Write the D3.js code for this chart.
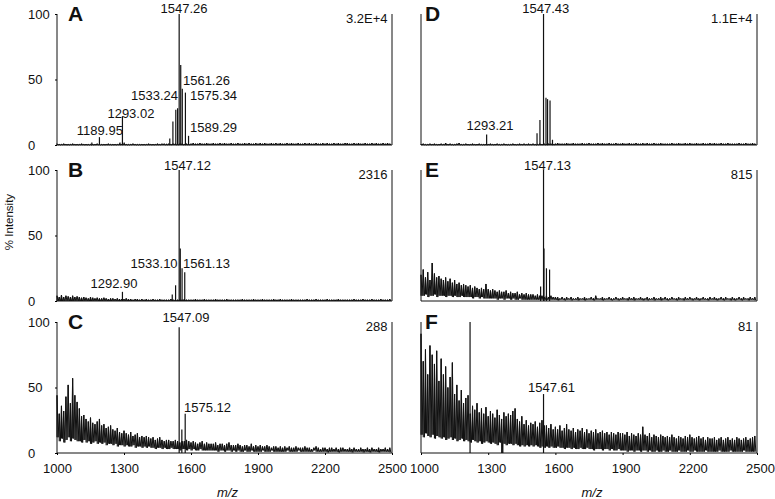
<!DOCTYPE html>
<html>
<head>
<meta charset="utf-8">
<script src="https://cdn.jsdelivr.net/npm/d3@7"></script>
<style>
  body { margin: 0; background: #fff; }
  svg { display: block; font-family: "Liberation Sans", Arial, sans-serif; }
</style>
</head>
<body>
<div id="chart"></div>
<script>
// m/z axis
var xTicks = [1000, 1300, 1600, 1900, 2200, 2500];
var yTicks = [0, 50, 100];
var noiseStart = 1000, noiseStep = 10;

// stick peaks [m/z, % intensity]
var peaksA = [[1156,2],[1190,6],[1282,2],[1293,22],[1301,2],[1491,1],[1505,5],[1519,18],[1532,27],[1540,28],[1547,100],[1554,61],[1561,43],[1575,40],[1589,7]];
var peaksB = [[1293,7],[1516,5],[1531,12],[1547,100],[1552,40],[1560,25],[1572,22]];
var peaksC = [[1547,96],[1559,18],[1574,30]];
var peaksD = [[1293,8],[1518,9],[1531,19],[1547,100],[1558,36],[1565,35],[1576,34],[1587,4]];
var peaksE = [[1534,11],[1547,100],[1549,40],[1560,25],[1574,24]];
var peaksF = [[1219,100],[1547,45]];

// baseline noise, upper / lower envelope every 10 m/z from 1000
var noiseAHi = [
  1,0.5,0.5,1,0.5,0.5,0.5,1,0.5,0.5,
  0.5,1,0.5,0.5,0.5,0.5,0.5,0.5,1,0.5,
  0.5,0.5,0.5,1,0.5,0.5,0.5,0.5,1,0.5,
  1,0.5,0.5,0.5,1,0.5,0.5,0.5,0.5,0.5,
  0.5,1,0.5,0.5,0.5,1,0.5,1,1,0.5,
  1,0.5,1,1,0.5,1,1,0.5,1,0.5,
  1,1.5,1,1,1.5,1,1,1.5,1,1,
  1.5,1,1,1.5,1,1.5,1,1,1.5,1,
  1,1.5,1,1,1.5,1,1.5,1,1,1.5,
  1,1.5,1,1.5,1,1,1.5,1,1.5,1,
  1.5,1,1,1.5,1,1.5,1,1,1.5,1,
  1,1.5,1,1.5,1,1,1.5,1,1,1.5,
  1,1.5,1,1,1.5,1,1.5,1,1,1.5,
  1.5,1,1,1.5,1,1.5,1,1,1.5,1,
  1,1.5,1,1.5,1,1,1.5,1,1.5,1];
var noiseBHi = [
  4,3,4.5,3,4,3.5,3,4,3,3.5,
  3,2.5,3,2.5,2,3,2.5,2,2.5,2,
  2,2.5,2,1.5,2,2,1.5,2,1.5,1.5,
  1.5,2,1.5,1.5,1,1.5,1.5,1,1.5,1,
  1.5,1,1,1.5,1,1,1.5,1,1,1,
  1,1.5,1,1,1,1,1,1.5,1,1,
  1,1,1.5,1,1,1,1.5,1,1,1,
  1,1.5,1,1,1,1,1.5,1,1,1,
  1,1,1,1.5,1,1,1,1,1.5,1,
  1,1,1.5,1,1,1,1,1.5,1,1,
  1.5,1,1,1,1,1.5,1,1,1,1,
  1,1,1.5,1,1,1,1.5,1,1,1,
  1,1.5,1,1,1,1,1.5,1,1,1,
  1,1,1,1.5,1,1,1,1.5,1,1,
  1,1.5,1,1,1,1.5,1,1,1,1.5];
var noiseCHi = [
  44,30,36,32,43,52,38,57,44,39,
  34,28,29,26,24,27,23,22,24,26,
  21,22,19,20,21,18,17,19,16,15,
  17,15,14,16,13,14,15,12,13,12,
  13,12,11,12,10,11,12,10,9,10,
  10,9,9,10,9,8,9,9,10,9,
  8,9,8,7,8,9,7,8,7,7,
  7,8,6,7,7,6,7,8,6,6,
  6,7,6,5,6,6,5,7,5,6,
  5,6,5,5,6,5,4,5,5,4,
  5,4,5,4,5,4,4,5,4,4,
  4,5,4,4,3,4,5,4,3,4,
  4,3,4,4,3,4,3,4,4,3,
  3,4,3,4,3,3,4,3,3,4,
  3,4,3,3,4,3,3,4,3,4];
var noiseCLo = [
  12,9,11,8,10,12,9,11,10,9,
  9,8,10,8,9,7,8,9,7,8,
  7,8,6,7,7,6,7,5,6,6,
  5,6,5,5,6,4,5,5,4,5,
  4,5,4,4,3,4,4,3,4,3,
  3,4,3,3,3,2,3,3,2,3,
  2,3,2,2,3,2,2,2,2,2,
  2,2,1,2,2,1,2,2,1,2,
  1,2,1,1,2,1,1,2,1,1,
  1,1,2,1,1,1,2,1,1,1,
  1,1,1,2,1,1,1,1,2,1,
  1,1,1,1,1,2,1,1,1,1,
  1,0.5,1,1,1,1,0.5,1,1,1,
  1,1,0.5,1,1,1,1,0.5,1,1,
  0.5,1,1,1,0.5,1,1,1,1,0.5];
var noiseDHi = [
  0.5,1,0.5,0.5,1,0.5,1,0.5,0.5,1,
  0.5,1.5,0.5,1,0.5,0.5,1,1.5,0.5,0.5,
  1,0.5,0.5,1,0.5,0.5,1,0.5,0.5,0.5,
  0.5,1,0.5,0.5,1,0.5,0.5,1,0.5,0.5,
  0.5,1,0.5,0.5,1,0.5,1,0.5,1,0.5,
  1,0.5,0.5,1,0.5,1,0.5,1,1,0.5,
  1,1.5,1,1,1,1.5,1,1,1.5,1,
  1,1,1.5,1,1,1.5,1,1,1,1.5,
  1,1.5,1,1,1.5,1,1,1.5,1,1,
  1.5,1,1,1.5,1,1,1.5,1,1,1.5,
  1,1.5,1,1,1.5,1,1,1.5,1,1,
  1,1,1.5,1,1,1.5,1,1,1.5,1,
  1.5,1,1,1.5,1,1,1.5,1,1,1.5,
  1,1.5,1,1,1.5,1,1,1.5,1,1,
  1,1,1.5,1,1,1.5,1,1,1.5,1];
var noiseEHi = [
  20,24,18,22,16,29,21,18,19,17,
  16,18,15,17,14,16,13,14,12,13,
  12,11,12,10,11,10,9,10,9,13,
  9,8,9,8,7,8,7,7,8,6,
  7,6,6,7,5,6,5,6,5,5,
  5,4,5,4,4,3,4,3,4,3,
  3,3,2,3,2,3,2,3,2,2,
  3,2,2,3,2,2,3,2,4,2,
  2,3,2,2,3,2,2,3,2,2,
  3,2,2,3,2,3,2,2,3,2,
  2,3,2,2,3,2,2,3,2,3,
  2,2,3,2,2,3,2,2,3,2,
  3,2,2,3,2,2,3,2,2,3,
  2,3,2,2,3,2,3,2,2,3,
  2,2,3,2,3,2,2,3,2,3];
var noiseELo = [
  4,4,5,3,4,4,5,3,4,4,
  4,3,4,4,3,4,3,3,4,3,
  3,3,3,2,3,3,2,3,2,2,
  2,2,2,2,1,2,2,1,2,2,
  1,2,1,1,2,1,1,1,1,1,
  1,1,1,1,1,1,1,1,1,1,
  1,0.5,1,1,0.5,1,1,0.5,1,1,
  0.5,1,1,0.5,1,1,1,0.5,1,1,
  1,0.5,1,1,1,0.5,1,1,0.5,1,
  1,1,0.5,1,1,0.5,1,1,1,0.5,
  1,0.5,1,1,0.5,1,1,0.5,1,1,
  0.5,1,1,1,0.5,1,1,0.5,1,1,
  1,0.5,1,1,0.5,1,1,1,0.5,1,
  1,1,0.5,1,1,0.5,1,1,0.5,1,
  0.5,1,1,0.5,1,1,0.5,1,1,0.5];
var noiseFHi = [
  91,70,79,60,82,75,68,78,55,72,
  60,66,50,58,69,45,52,40,48,38,
  42,44,30,36,33,38,31,34,30,35,
  28,32,30,27,33,29,26,31,28,30,
  29,32,34,26,24,28,22,25,21,23,
  22,24,20,23,25,21,21,19,22,18,
  20,18,21,17,19,22,18,17,19,16,
  18,17,19,16,18,15,17,16,18,15,
  16,17,15,16,14,16,15,14,16,15,
  15,14,16,13,15,14,13,15,14,20,
  14,13,15,12,14,13,12,14,13,12,
  13,12,14,12,11,13,12,11,13,12,
  14,12,11,12,13,11,12,10,12,11,
  11,12,10,11,12,10,11,12,10,11,
  10,12,11,10,11,12,10,11,12,13];
var noiseFLo = [
  14,12,15,13,12,14,11,13,12,11,
  12,10,11,12,10,11,9,10,11,9,
  10,9,8,10,9,8,9,7,8,9,
  8,7,8,7,6,8,0,7,6,7,
  7,6,7,6,5,6,5,6,5,6,
  5,6,5,4,5,4,5,4,5,4,
  4,5,4,4,3,4,4,3,4,3,
  3,4,3,3,4,3,3,2,3,3,
  3,2,3,3,2,3,2,2,3,2,
  2,2,1,2,2,1,2,2,1,2,
  2,1,2,1,1,2,1,1,2,1,
  1,2,1,1,1,2,1,1,1,2,
  1,1,2,1,1,1,1,2,1,1,
  1,1,1,2,1,1,1,1,2,1,
  1,1,1,1,2,1,1,1,1,1];

// peak labels [text, m/z, % intensity, anchor]
var labelsA = [["1547.26",1569,101,"middle"],["1561.26",1564,46,"start"],["1575.34",1596,34.4,"start"],
  ["1533.24",1542,34.4,"end"],["1293.02",1331,20.6,"middle"],["1189.95",1192,7.6,"middle"],["1589.29",1596,9.9,"start"]];
var labelsB = [["1547.12",1584,100,"middle"],["1533.10",1540,25.2,"end"],["1561.13",1564,25.2,"start"],["1292.90",1255,9.9,"middle"]];
var labelsC = [["1547.09",1578,100,"middle"],["1575.12",1569,31.3,"start"]];
var labelsD = [["1547.43",1557,100.8,"middle"],["1293.21",1308,11.5,"middle"]];
var labelsE = [["1547.13",1565,100,"middle"]];
var labelsF = [["1547.61",1583,46.6,"middle"]];

var panelNames = ["A", "B", "C", "D", "E", "F"];
var maxCounts = ["3.2E+4", "2316", "288", "1.1E+4", "815", "81"];

var width = 775, height = 499;
var colRange = [[57, 392], [421, 757]];
var rowRange = [[145, 14], [301, 170], [453, 322]];

var panels = [
  {peaks: peaksA, hi: noiseAHi, lo: null, labels: labelsA},
  {peaks: peaksB, hi: noiseBHi, lo: null, labels: labelsB},
  {peaks: peaksC, hi: noiseCHi, lo: noiseCLo, labels: labelsC},
  {peaks: peaksD, hi: noiseDHi, lo: null, labels: labelsD},
  {peaks: peaksE, hi: noiseEHi, lo: noiseELo, labels: labelsE},
  {peaks: peaksF, hi: noiseFHi, lo: noiseFLo, labels: labelsF}
];

var svg = d3.select("#chart").append("svg")
  .attr("width", width)
  .attr("height", height);

panels.forEach(function(p, k) {
  var col = Math.floor(k / 3), row = k % 3;
  var x = d3.scaleLinear().domain([1000, 2500]).range(colRange[col]);
  var y = d3.scaleLinear().domain([0, 100]).range(rowRange[row]);
  var g = svg.append("g");
  var lo = function(i) { return p.lo ? p.lo[i] : 0; };

  // noise: a bar per bin from low to high, plus a zigzag between them
  g.selectAll(".nz").data(p.hi).enter().append("line")
    .attr("x1", (d, i) => x(noiseStart + i * noiseStep))
    .attr("x2", (d, i) => x(noiseStart + i * noiseStep))
    .attr("y1", (d, i) => y(lo(i)))
    .attr("y2", d => y(d))
    .attr("stroke", "#111")
    .attr("stroke-width", 1.1);

  var pts = [];
  p.hi.forEach(function(v, i) {
    var m = noiseStart + i * noiseStep;
    pts.push([x(m), y(v)]);
    pts.push([x(m + noiseStep / 2), y(lo(i))]);
  });
  g.append("path")
    .attr("d", d3.line()(pts))
    .attr("fill", "none")
    .attr("stroke", "#111")
    .attr("stroke-width", 1);

  // peaks
  g.selectAll(".pk").data(p.peaks).enter().append("line")
    .attr("x1", d => x(d[0])).attr("x2", d => x(d[0]))
    .attr("y1", y(0)).attr("y2", d => y(d[1]))
    .attr("stroke", "#111")
    .attr("stroke-width", 1.2);

  // frame: left axis, right edge, baseline
  g.append("line").attr("x1", x(1000)).attr("x2", x(1000)).attr("y1", y(0)).attr("y2", y(100))
    .attr("stroke", "#111").attr("stroke-width", 1);
  g.append("line").attr("x1", x(2500)).attr("x2", x(2500)).attr("y1", y(0)).attr("y2", y(100))
    .attr("stroke", "#111").attr("stroke-width", 1);
  g.append("line").attr("x1", x(1000)).attr("x2", x(2500)).attr("y1", y(0)).attr("y2", y(0))
    .attr("stroke", "#111").attr("stroke-width", 1);

  if (col === 0) {
    var ya = g.append("g")
      .attr("transform", `translate(${x(1000)},0)`)
      .call(d3.axisLeft(y).tickValues(yTicks).tickSize(2).tickFormat(d3.format("d")));
    ya.select(".domain").remove();
    ya.selectAll("text")
      .attr("text-anchor", "start")
      .attr("x", 28 - x(1000))
      .attr("font-size", 13)
      .attr("font-family", "Liberation Sans, Arial, sans-serif")
      .attr("fill", "#111");
  }

  if (row === 2) {
    var xa = g.append("g")
      .attr("transform", `translate(0,${y(0)})`)
      .call(d3.axisBottom(x).tickValues(xTicks).tickSize(2).tickFormat(d3.format("d")));
    xa.select(".domain").remove();
    xa.selectAll("text")
      .attr("y", 11)
      .attr("dx", col === 1 ? 3 : 0)
      .attr("font-size", 13)
      .attr("font-family", "Liberation Sans, Arial, sans-serif")
      .attr("fill", "#111");
  }

  // panel letter
  g.append("text")
    .attr("x", x(1000) + (col === 0 ? 11 : 4))
    .attr("y", y(100) + 7)
    .attr("font-size", 21)
    .attr("font-weight", "bold")
    .attr("fill", "#111")
    .text(panelNames[k]);

  // max count
  g.append("text")
    .attr("x", x(2480))
    .attr("y", y(93))
    .attr("text-anchor", "end")
    .attr("font-size", 13)
    .attr("fill", "#111")
    .text(maxCounts[k]);

  g.selectAll(".lbl").data(p.labels).enter().append("text")
    .attr("x", d => x(d[1]))
    .attr("y", d => y(d[2]))
    .attr("text-anchor", d => d[3])
    .attr("font-size", 13)
    .attr("fill", "#111")
    .text(d => d[0]);
});

svg.append("text")
  .attr("transform", "translate(13,222) rotate(-90)")
  .attr("text-anchor", "middle")
  .attr("font-size", 11.5)
  .attr("fill", "#111")
  .text("% Intensity");

[0, 1].forEach(function(col) {
  svg.append("text")
    .attr("x", (colRange[col][0] + colRange[col][1]) / 2 + 3)
    .attr("y", 497)
    .attr("text-anchor", "middle")
    .attr("font-size", 13)
    .attr("font-style", "italic")
    .attr("fill", "#111")
    .text("m/z");
});
</script>
</body>
</html>
